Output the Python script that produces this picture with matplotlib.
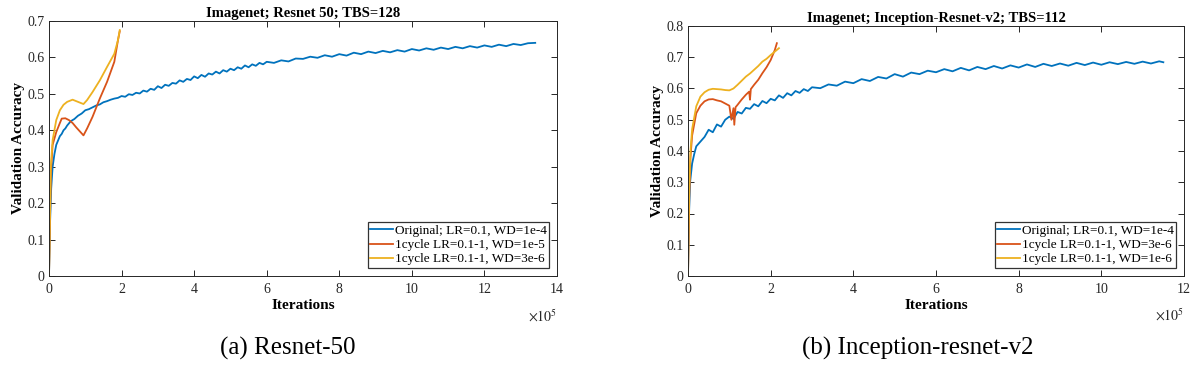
import matplotlib
matplotlib.use("Agg")
import matplotlib.pyplot as plt
from matplotlib.ticker import MultipleLocator, FuncFormatter

plt.rcParams['font.family'] = ['Liberation Serif', 'DejaVu Serif']
plt.rcParams['mathtext.fontset'] = 'stix'

BLUE = '#0072BD'
RED = '#D95319'
YEL = '#EDB120'

# ---------------- (a) Resnet-50 ----------------
a_orig_x = [0, 0.03, 0.06, 0.1, 0.15, 0.2, 0.25, 0.3, 0.35, 0.4, 0.45, 0.5, 0.6, 0.7, 0.8, 0.9,
            1.0, 1.1, 1.2, 1.3, 1.4, 1.5, 1.6, 1.7, 1.8, 1.9, 2.0, 2.1, 2.2, 2.3, 2.4, 2.5,
            2.6, 2.7, 2.8, 2.9, 3.0, 3.1, 3.2, 3.3, 3.4, 3.5, 3.6, 3.7, 3.8, 3.9, 4.0, 4.1,
            4.2, 4.3, 4.4, 4.5, 4.6, 4.7, 4.8, 4.9, 5.0, 5.1, 5.2, 5.3, 5.4, 5.5, 5.6, 5.7,
            5.8, 5.9, 6.0, 6.2, 6.4, 6.6, 6.8, 7.0, 7.2, 7.4, 7.6, 7.8, 8.0, 8.2, 8.4, 8.6,
            8.8, 9.0, 9.2, 9.4, 9.6, 9.8, 10.0, 10.2, 10.4, 10.6, 10.8, 11.0, 11.2, 11.4,
            11.6, 11.8, 12.0, 12.2, 12.4, 12.6, 12.8, 13.0, 13.2, 13.4]
a_orig_y = [0.0, 0.15, 0.24, 0.30, 0.335, 0.36, 0.372, 0.384, 0.39, 0.40, 0.405, 0.413, 0.425, 0.431, 0.44, 0.446,
            0.455, 0.458, 0.463, 0.468, 0.471, 0.477, 0.480, 0.484, 0.487, 0.489, 0.494, 0.492, 0.499, 0.497, 0.503, 0.501,
            0.509, 0.506, 0.514, 0.511, 0.521, 0.516, 0.525, 0.522, 0.530, 0.528, 0.537, 0.533, 0.541, 0.538, 0.548, 0.543,
            0.552, 0.547, 0.556, 0.553, 0.561, 0.556, 0.565, 0.561, 0.569, 0.565, 0.573, 0.569, 0.578, 0.573, 0.581, 0.577,
            0.585, 0.581, 0.588, 0.585, 0.592, 0.589, 0.597, 0.596, 0.602, 0.599, 0.606, 0.602, 0.609, 0.605, 0.613, 0.609,
            0.616, 0.612, 0.618, 0.614, 0.620, 0.616, 0.623, 0.619, 0.625, 0.621, 0.627, 0.623, 0.629, 0.625,
            0.631, 0.627, 0.633, 0.629, 0.635, 0.631, 0.637, 0.634, 0.639, 0.640]

a_r1_x = [0, 0.05, 0.1, 0.2, 0.3, 0.35, 0.45, 0.55, 0.65, 0.75, 0.85, 0.95, 1.05, 1.2, 1.4, 1.6, 1.8, 1.9, 1.95]
a_r1_y = [0.0, 0.28, 0.36, 0.395, 0.42, 0.432, 0.433, 0.428, 0.42, 0.408, 0.397, 0.386, 0.405, 0.437, 0.487, 0.533, 0.588, 0.647, 0.672]

a_r2_x = [0, 0.05, 0.1, 0.2, 0.3, 0.4, 0.5, 0.65, 0.8, 0.95, 1.05, 1.2, 1.4, 1.6, 1.8, 1.9, 1.95]
a_r2_y = [0.0, 0.30, 0.373, 0.428, 0.455, 0.470, 0.478, 0.484, 0.478, 0.472, 0.483, 0.505, 0.537, 0.574, 0.61, 0.647, 0.675]

# ---------------- (b) Inception-resnet-v2 ----------------
b_orig_x = [0, 0.02, 0.05, 0.1, 0.15, 0.2, 0.3, 0.4, 0.5, 0.6, 0.7, 0.8, 0.9, 1.0, 1.1, 1.2, 1.3,
            1.4, 1.5, 1.6, 1.7, 1.8, 1.9, 2.0, 2.1, 2.2, 2.3, 2.4, 2.5, 2.6, 2.7, 2.8, 2.9,
            3.0, 3.2, 3.4, 3.6, 3.8, 4.0, 4.2, 4.4, 4.6, 4.8, 5.0, 5.2, 5.4, 5.6, 5.8, 6.0,
            6.2, 6.4, 6.6, 6.8, 7.0, 7.2, 7.4, 7.6, 7.8, 8.0, 8.2, 8.4, 8.6, 8.8, 9.0, 9.2,
            9.4, 9.6, 9.8, 10.0, 10.2, 10.4, 10.6, 10.8, 11.0, 11.2, 11.4, 11.5]
b_orig_y = [0.0, 0.18, 0.30, 0.36, 0.39, 0.415, 0.43, 0.445, 0.468, 0.46, 0.485, 0.478, 0.50, 0.51, 0.503, 0.525, 0.52,
            0.538, 0.535, 0.55, 0.543, 0.56, 0.553, 0.567, 0.562, 0.578, 0.570, 0.585, 0.578, 0.592, 0.586, 0.598, 0.592,
            0.604, 0.601, 0.613, 0.609, 0.622, 0.617, 0.630, 0.624, 0.637, 0.632, 0.646, 0.638, 0.651, 0.646, 0.657, 0.652,
            0.662, 0.655, 0.666, 0.658, 0.669, 0.662, 0.672, 0.664, 0.674, 0.667, 0.677, 0.669, 0.679, 0.672, 0.680, 0.673,
            0.682, 0.675, 0.683, 0.676, 0.684, 0.678, 0.685, 0.679, 0.686, 0.680, 0.687, 0.684]

b_r1_x = [0, 0.03, 0.06, 0.1, 0.2, 0.3, 0.4, 0.5, 0.6, 0.7, 0.8, 0.9, 1.0, 1.05, 1.1, 1.12, 1.15, 1.2, 1.3,
          1.4, 1.48, 1.5, 1.52, 1.6, 1.7, 1.8, 1.9, 2.0, 2.1, 2.15]
b_r1_y = [0.0, 0.25, 0.38, 0.45, 0.521, 0.545, 0.559, 0.565, 0.566, 0.562, 0.559, 0.552, 0.545, 0.50, 0.537, 0.484, 0.54, 0.548, 0.565,
          0.58, 0.59, 0.564, 0.598, 0.612, 0.628, 0.649, 0.668, 0.691, 0.723, 0.745]

b_r2_x = [0, 0.03, 0.06, 0.1, 0.2, 0.3, 0.4, 0.5, 0.6, 0.7, 0.8, 0.9, 1.0, 1.1, 1.2, 1.3, 1.4, 1.5, 1.6, 1.7, 1.8, 1.9, 2.0, 2.1, 2.2]
b_r2_y = [0.0, 0.28, 0.40, 0.47, 0.543, 0.574, 0.588, 0.596, 0.599, 0.598, 0.597, 0.595, 0.594, 0.600, 0.612, 0.625, 0.638, 0.648, 0.66, 0.672, 0.686, 0.695, 0.707, 0.718, 0.729]

panels = [
    dict(rect=[49/1195, 1-276/371, (557-49)/1195, (276-21)/371],
         title='Imagenet; Resnet 50; TBS=128', xmax=14, ymax=0.7,
         series=[(a_orig_x, a_orig_y, BLUE, 'Original; LR=0.1, WD=1e-4'),
                 (a_r1_x, a_r1_y, RED, '1cycle LR=0.1-1, WD=1e-5'),
                 (a_r2_x, a_r2_y, YEL, '1cycle LR=0.1-1, WD=3e-6')],
         caption='(a) Resnet-50', cap_x=288/1195),
    dict(rect=[688/1195, 1-276/371, (1184-688)/1195, (276-26)/371],
         title='Imagenet; Inception-Resnet-v2; TBS=112', xmax=12, ymax=0.8,
         series=[(b_orig_x, b_orig_y, BLUE, 'Original; LR=0.1, WD=1e-4'),
                 (b_r1_x, b_r1_y, RED, '1cycle LR=0.1-1, WD=3e-6'),
                 (b_r2_x, b_r2_y, YEL, '1cycle LR=0.1-1, WD=1e-6')],
         caption='(b) Inception-resnet-v2', cap_x=918/1195),
]

fig = plt.figure(figsize=(11.95, 3.71), dpi=100)
AX = '#262626'
for p in panels:
    ax = fig.add_axes(p['rect'])
    for xs, ys, c, lab in p['series']:
        ax.plot([v * 1e5 for v in xs], ys, color=c, lw=1.3, label=lab)
    ax.set_xlim(0, p['xmax'] * 1e5)
    ax.set_ylim(0, p['ymax'])
    ax.xaxis.set_major_locator(MultipleLocator(2e5))
    ax.yaxis.set_major_locator(MultipleLocator(0.1))
    ax.xaxis.set_major_formatter(FuncFormatter(lambda v, _: f'{v/1e5:g}'))
    ax.yaxis.set_major_formatter(FuncFormatter(lambda v, _: '0' if abs(v) < 1e-9 else f'{v:.1f}'))
    ax.tick_params(direction='in', top=True, right=True, labelsize=10, colors=AX,
                   length=4, width=0.7)
    ax.tick_params(axis='x', pad=5)
    ax.tick_params(axis='y', pad=3)
    for s in ax.spines.values():
        s.set_color(AX)
        s.set_linewidth(0.7)
    ax.text(1.0, -0.125, r'$\times10^{5}$', transform=ax.transAxes, ha='right', va='top',
            fontsize=10, color=AX)
    ax.set_title(p['title'], fontsize=10.5, fontweight='bold', pad=3)
    ax.set_xlabel('Iterations', fontsize=11, fontweight='bold', labelpad=2)
    ax.set_ylabel('Validation Accuracy', fontsize=11, fontweight='bold', labelpad=2)
    leg = ax.legend(loc='lower right', fontsize=9.5, frameon=True, fancybox=False,
                    edgecolor='black', handlelength=1.7, handletextpad=0.15,
                    borderpad=0.2, labelspacing=0.15, borderaxespad=0.6)
    leg.get_frame().set_linewidth(0.9)
    fig.text(p['cap_x'], 1 - 348/371, p['caption'], ha='center', va='center', fontsize=18)

fig.savefig('out.png', dpi=100)
